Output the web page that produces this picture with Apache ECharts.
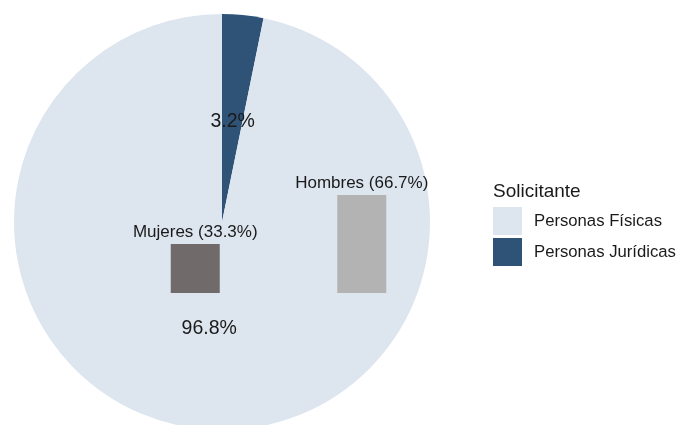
<!DOCTYPE html>
<html>
<head>
<meta charset="utf-8">
<script src="https://cdn.jsdelivr.net/npm/echarts@6/dist/echarts.min.js"></script>
<style>html,body{margin:0;padding:0;background:#fff}#c{width:678px;height:425px}</style>
</head>
<body>
<div id="c"></div>
<script>
const solicitante = ['Personas Jurídicas', 'Personas Físicas'];
const solicitantePct = [3.2, 96.8];
const legendOrder = ['Personas Físicas', 'Personas Jurídicas'];
const sexo = ['Mujeres', 'Hombres'];
const sexoPct = [33.3, 66.7];

const pieColors = {'Personas Físicas': '#dde5ef', 'Personas Jurídicas': '#2e5377'};
const pieLabelOffset = {'Personas Físicas': [-2, 0], 'Personas Jurídicas': [0, 6]};
const barColors = ['#716a6a', '#b3b3b3'];
const FONT = '"Liberation Sans", Arial, sans-serif';

const chart = echarts.init(document.getElementById('c'), null, {renderer: 'canvas'});
chart.setOption({
  animation: false,
  textStyle: {fontFamily: FONT},
  title: {
    text: 'Solicitante', left: 488, top: 177,
    textStyle: {fontFamily: FONT, fontSize: 19, fontWeight: 'normal', color: '#1a1a1a'}
  },
  legend: {
    data: legendOrder, orient: 'vertical', left: 488, top: 202,
    icon: 'rect', itemWidth: 29, itemHeight: 28, itemGap: 3,
    textStyle: {fontFamily: FONT, fontSize: 16.7, color: '#1a1a1a', padding: [2, 0, 0, 7]},
    selectedMode: false
  },
  grid: {left: 112, width: 333, top: 146, height: 147},
  xAxis: {type: 'category', data: sexo, show: false},
  yAxis: {type: 'value', min: 0, max: 100, show: false},
  series: [
    {
      type: 'pie', center: [222, 222], radius: 208, startAngle: 90, clockwise: true,
      z: 1, silent: true,
      data: solicitante.map((n, i) => ({
        name: n, value: solicitantePct[i], itemStyle: {color: pieColors[n]},
        label: {offset: pieLabelOffset[n]}
      })),
      label: {
        position: 'inside', fontFamily: FONT, fontSize: 19.5, color: '#1a1a1a',
        formatter: p => p.value.toFixed(1) + '%'
      },
      labelLine: {show: false}
    },
    {
      type: 'bar', z: 3, barWidth: 49,
      data: sexoPct.map((v, i) => ({value: v, itemStyle: {color: barColors[i]}})),
      label: {
        show: true, position: 'top', distance: 3, fontFamily: FONT, fontSize: 17, color: '#1a1a1a',
        formatter: p => sexo[p.dataIndex] + ' (' + p.value.toFixed(1) + '%)'
      }
    }
  ]
});
</script>
</body>
</html>
